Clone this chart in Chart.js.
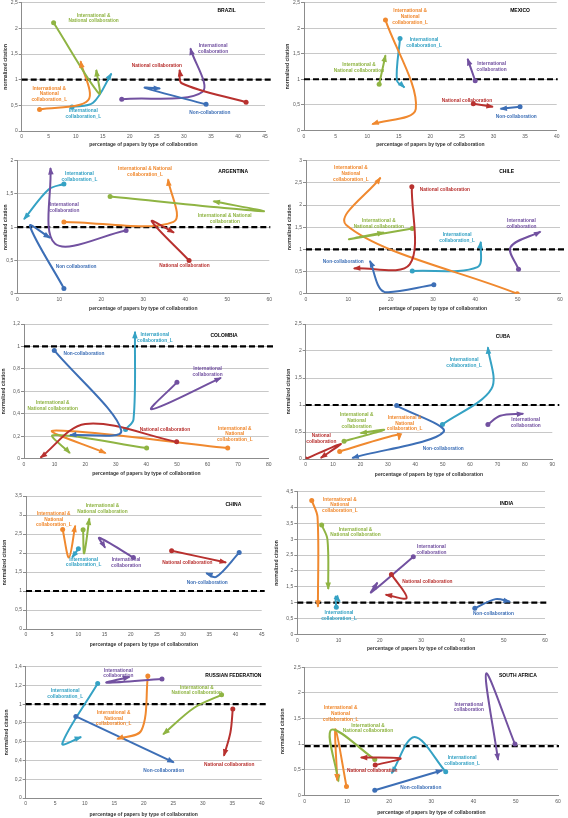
<!DOCTYPE html>
<html>
<head>
<meta charset="utf-8">
<script src="https://cdn.jsdelivr.net/npm/chart.js@4.4.1/dist/chart.umd.min.js"></script>
<style>
  html, body { margin: 0; padding: 0; background: #fff; }
  body { width: 568px; height: 818px; position: relative; overflow: hidden; }
  canvas { position: absolute; }
</style>
</head>
<body>
<script>
// ── Data: [percentage of papers, normalized citation] per period ─────────

// Brazil
const brNon     = [[34.1, 0.52], [22.8, 0.84], [25.6, 0.83]];
const brNat     = [[41.5, 0.56], [29.6, 0.93], [29.2, 1.19]];
const brInt     = [[18.5, 0.62], [33.4, 0.76], [31.2, 1.61]];
const brIntNat  = [[5.9, 2.11], [14.3, 0.73], [13.8, 1.19]];
const brIntNatL = [[3.3, 0.42], [12.3, 0.6], [10.9, 1.36]];
const brIntL    = [[9.3, 0.47], [13.2, 0.55], [16.6, 1.12]];

// Mexico
const mxNon     = [[34.2, 0.46], [31.1, 0.42]];
const mxNat     = [[26.8, 0.52], [29.9, 0.46]];
const mxInt     = [[27.1, 0.97], [25.9, 1.4]];
const mxIntNat  = [[11.9, 0.9], [12.9, 1.47]];
const mxIntNatL = [[12.9, 2.16], [17.7, 0.42], [10.8, 0.12]];
const mxIntL    = [[15.2, 1.8], [14.7, 0.98], [15.9, 0.84]];

// Argentina
const arNon     = [[11.1, 0.08], [3, 1.02], [7.8, 0.84]];
const arNat     = [[40.9, 0.5], [32, 1.09], [37.3, 0.92]];
const arInt     = [[25.9, 0.95], [9, 0.75], [7.9, 1.89]];
const arIntNat  = [[22.1, 1.46], [58.6, 1.24], [46.7, 1.39]];
const arIntNatL = [[11.1, 1.08], [37.2, 1.08], [35.9, 1.72]];
const arIntL    = [[11.1, 1.65], [7.5, 1.57], [1.6, 1.12]];

// Chile
const clNon     = [[30.2, 0.2], [18.5, 0.04], [15.1, 0.74]];
const clNat     = [[25, 2.41], [24.5, 0.66], [11.3, 0.57]];
const clInt     = [[50.2, 0.55], [48.3, 1.05], [55.4, 1.4]];
const clIntNat  = [[25.1, 1.47], [10.2, 1.23], [18.4, 1.38]];
const clIntNatL = [[49.9, 0], [9.5, 1.55], [17.6, 2.62]];
const clIntL    = [[25.1, 0.51], [40.5, 0.6], [41.3, 1.17]];

// Colombia
const coNon     = [[9.9, 0.965], [31.8, 0.25], [15, 0.21]];
const coNat     = [[49.9, 0.15], [20, 0.31], [5.4, 0.01]];
const coInt     = [[50, 0.68], [41.7, 0.44], [64.4, 0.72]];
const coIntNat  = [[40.1, 0.095], [9.5, 0.21], [15, 0.05]];
const coIntNatL = [[66.6, 0.095], [9.5, 0.25], [26.7, 0.05]];
const coIntL    = [[33.2, 0.26], [35.8, 0.35], [36.3, 1.13]];

// Cuba
const cuNon     = [[33.2, 0.99], [50.3, 0.5], [17, 0.02]];
const cuNat     = [[0, 0], [12.8, 0.28], [5.5, 0.02]];
const cuInt     = [[66.5, 0.64], [71, 0.8], [79.4, 0.84]];
const cuIntNat  = [[14, 0.33], [28.6, 0.54], [20, 0.48]];
const cuIntNatL = [[12.4, 0.14], [34.2, 0.46], [34, 0.36]];
const cuIntL    = [[49.9, 0.64], [67.8, 1.3], [66.5, 2.07]];

// China
const chNon     = [[40.7, 2.01], [36.3, 1.37], [34.4, 1.47]];
const chNat     = [[27.8, 2.06], [38.2, 1.75]];
const chInt     = [[20.5, 1.88], [14, 2.4], [15.1, 2.14]];
const chIntNat  = [[10.9, 2.61], [11.1, 1.99], [12.1, 2.91]];
const chIntNatL = [[7, 2.62], [8.2, 1.88], [9.4, 2.72]];
const chIntL    = [[10, 2.11], [8.8, 1.88]];

// India
const inNon     = [[43, 0.82], [48, 1.11], [51.5, 1.03]];
const inNat     = [[22.8, 1.89], [26.5, 1.15], [21.4, 1.25]];
const inInt     = [[28.1, 2.45], [17.9, 1.32], [19.4, 1.63]];
const inIntNat  = [[5.9, 3.45], [7.3, 3.0], [7.5, 1.43]];
const inIntNatL = [[3.5, 4.22], [4.9, 3.7], [5, 0.87]];
const inIntL    = [[9.45, 0.85], [9.3, 1.19], [10.3, 1.03]];

// Russian Federation
const ruNon     = [[8.5, 0.87], [25.1, 0.38]];
const ruNat     = [[35.1, 0.95], [34.7, 0.7], [33.6, 0.45]];
const ruInt     = [[23.1, 1.27], [13.7, 1.23], [17.6, 1.29]];
const ruIntNat  = [[33.2, 1.1], [28.5, 0.96], [23.3, 0.68]];
const ruIntNatL = [[20.7, 1.3], [19.6, 0.72], [15.5, 0.63]];
const ruIntL    = [[12.2, 1.22], [6.2, 0.58], [9.4, 0.65]];

// South Africa
const saNon     = [[16.6, 0.1], [32.6, 0.49]];
const saNat     = [[16.7, 0.59], [22.7, 0.72], [13.3, 0.74]];
const saInt     = [[49.8, 1], [43, 2.38], [45.8, 0.69]];
const saIntNat  = [[16.6, 0.7], [6.3, 1.28], [8, 0.27]];
const saIntNatL = [[9.9, 0.17], [7.3, 1.29], [7.7, 0.29]];
const saIntL    = [[33.4, 0.46], [26, 1.14], [20.6, 0.43]];

// Axis ranges: [xMax, xStep, yMax, yStep]
const brAxis = [45, 5, 2.5, 0.5];
const mxAxis = [40, 5, 2.5, 0.5];
const arAxis = [60, 10, 2, 0.5];
const clAxis = [60, 10, 3, 0.5];
const coAxis = [80, 10, 1.2, 0.2];
const cuAxis = [90, 10, 2.5, 0.5];
const chAxis = [45, 5, 3.5, 0.5];
const inAxis = [60, 10, 4.5, 0.5];
const ruAxis = [40, 5, 1.4, 0.2];
const saAxis = [60, 10, 2.5, 0.5];

// ── Annotation text placed in data units: [series, x, y, text] ───────────

const brLabels = [
  ['intNat', 13.3, 2.2, 'International &\nNational collaboration'],
  ['intNatL', 5.1, 0.72, 'International &\nNational\ncollaboration_L'],
  ['intL', 11.4, 0.33, 'International\ncollaboration_L'],
  ['int', 35.4, 1.61, 'International\ncollaboration'],
  ['nat', 25, 1.27, 'National collaboration'],
  ['non', 34.8, 0.36, 'Non-collaboration'],
];
const mxLabels = [
  ['intNatL', 16.8, 2.23, 'International &\nNational\ncollaboration_L'],
  ['intL', 19, 1.72, 'International\ncollaboration_L'],
  ['intNat', 8.7, 1.23, 'International &\nNational collaboration'],
  ['int', 29.7, 1.25, 'International\ncollaboration'],
  ['nat', 25.8, 0.58, 'National collaboration'],
  ['non', 33.6, 0.27, 'Non-collaboration'],
];
const arLabels = [
  ['intL', 14.8, 1.76, 'International\ncollaboration_L'],
  ['intNatL', 30.4, 1.83, 'International & National\ncollaboration_L'],
  ['int', 11.2, 1.29, 'International\ncollaboration'],
  ['intNat', 49.4, 1.13, 'International & National\ncollaboration'],
  ['non', 14, 0.41, 'Non collaboration'],
  ['nat', 39.8, 0.42, 'National collaboration'],
];
const clLabels = [
  ['intNatL', 10.6, 2.71, 'International &\nNational\ncollaboration_L'],
  ['nat', 32.8, 2.35, 'National collaboration'],
  ['intNat', 17.2, 1.58, 'International &\nNational collaboration'],
  ['intL', 35.7, 1.26, 'International\ncollaboration_L'],
  ['int', 50.9, 1.58, 'International\ncollaboration'],
  ['non', 8.8, 0.72, 'Non-collaboration'],
];
const coLabels = [
  ['intL', 42.8, 1.08, 'International\ncollaboration_L'],
  ['non', 19.6, 0.935, 'Non-collaboration'],
  ['int', 60, 0.775, 'International\ncollaboration'],
  ['intNat', 9.4, 0.47, 'International &\nNational collaboration'],
  ['nat', 46.1, 0.26, 'National collaboration'],
  ['intNatL', 68.9, 0.22, 'International &\nNational\ncollaboration_L'],
];
const cuLabels = [
  ['intL', 57.8, 1.79, 'International\ncollaboration_L'],
  ['intNat', 18.6, 0.71, 'International &\nNational\ncollaboration'],
  ['intNatL', 36.1, 0.66, 'International &\nNational\ncollaboration_L'],
  ['nat', 5.7, 0.38, 'National\ncollaboration'],
  ['non', 50.2, 0.2, 'Non-collaboration'],
  ['int', 80.3, 0.67, 'International\ncollaboration'],
];
const chLabels = [
  ['intNatL', 5.3, 2.89, 'International &\nNational\ncollaboration_L'],
  ['intNat', 14.6, 3.16, 'International &\nNational collaboration'],
  ['intL', 11, 1.76, 'International\ncollaboration_L'],
  ['int', 19.1, 1.75, 'International\ncollaboration'],
  ['nat', 30.8, 1.75, 'National collaboration'],
  ['non', 34.6, 1.23, 'Non-collaboration'],
];
const inLabels = [
  ['intNatL', 10.3, 4.08, 'International &\nNational\ncollaboration_L'],
  ['intNat', 14.1, 3.22, 'International &\nNational collaboration'],
  ['int', 32.5, 2.66, 'International\ncollaboration'],
  ['nat', 31.5, 1.65, 'National collaboration'],
  ['intL', 10.1, 0.58, 'International\ncollaboration_L'],
  ['non', 47.5, 0.66, 'Non-collaboration'],
];
const ruLabels = [
  ['int', 15.7, 1.33, 'International\ncollaboration'],
  ['intL', 6.7, 1.11, 'International\ncollaboration_L'],
  ['intNat', 29, 1.15, 'International &\nNational collaboration'],
  ['intNatL', 14.9, 0.85, 'International &\nNational\ncollaboration_L'],
  ['non', 23.4, 0.29, 'Non-collaboration'],
  ['nat', 34.5, 0.36, 'National collaboration'],
];
const saLabels = [
  ['int', 38.9, 1.72, 'International\ncollaboration'],
  ['intNatL', 8.5, 1.59, 'International &\nNational\ncollaboration_L'],
  ['intNat', 15, 1.31, 'International &\nNational collaboration'],
  ['nat', 16, 0.49, 'National collaboration'],
  ['intL', 37.3, 0.67, 'International\ncollaboration_L'],
  ['non', 27.5, 0.14, 'Non-collaboration'],
];

// ── Styling / layout ──────────────────────────────────────────────────────

const FONT   = "'Liberation Sans', Arial, sans-serif";
const ORDER  = ['non', 'nat', 'int', 'intNat', 'intNatL', 'intL'];
const COLORS = { non: '#3d6fb6', nat: '#b8312f', int: '#7251a0',
                 intNat: '#8fb443', intNatL: '#f0892f', intL: '#35a2c4' };

// plot rect [left, top, right, bottom] in page px, title centres, ref line
const panels = [
  { name: 'BRAZIL', country: [37.9, 2.34], axis: brAxis, labels: brLabels,
    series: { non: brNon, nat: brNat, int: brInt, intNat: brIntNat, intNatL: brIntNatL, intL: brIntL },
    plot: [21.7, 2.7, 265, 131], yTitleX: 6, xTitleY: 145, ref: 1, ext: 7 },
  { name: 'MEXICO', country: [34.2, 2.34], axis: mxAxis, labels: mxLabels,
    series: { non: mxNon, nat: mxNat, int: mxInt, intNat: mxIntNat, intNatL: mxIntNatL, intL: mxIntL },
    plot: [304, 2.7, 556.7, 130.3], yTitleX: 287.3, xTitleY: 144.3, ref: 1, ext: 1 },
  { name: 'ARGENTINA', country: [51.4, 1.83], axis: arAxis, labels: arLabels,
    series: { non: arNon, nat: arNat, int: arInt, intNat: arIntNat, intNatL: arIntNatL, intL: arIntL },
    plot: [17.3, 160.7, 269.3, 293.7], yTitleX: 6, xTitleY: 308.3, ref: 1, ext: 1 },
  { name: 'CHILE', country: [47.4, 2.75], axis: clAxis, labels: clLabels,
    series: { non: clNon, nat: clNat, int: clInt, intNat: clIntNat, intNatL: clIntNatL, intL: clIntL },
    plot: [306, 160.7, 560, 293.7], yTitleX: 290, xTitleY: 309, ref: 1, ext: 7 },
  { name: 'COLOMBIA', country: [65.4, 1.1], axis: coAxis, labels: coLabels,
    series: { non: coNon, nat: coNat, int: coInt, intNat: coIntNat, intNatL: coIntNatL, intL: coIntL },
    plot: [24, 324, 268.7, 458.7], yTitleX: 3.5, xTitleY: 473.7, ref: 1, ext: 6 },
  { name: 'CUBA', country: [72, 2.27], axis: cuAxis, labels: cuLabels,
    series: { non: cuNon, nat: cuNat, int: cuInt, intNat: cuIntNat, intNatL: cuIntNatL, intL: cuIntL },
    plot: [305.7, 324, 552.3, 459], yTitleX: 289, xTitleY: 474.7, ref: 1, ext: 7 },
  { name: 'CHINA', country: [39.6, 3.26], axis: chAxis, labels: chLabels,
    series: { non: chNon, nat: chNat, int: chInt, intNat: chIntNat, intNatL: chIntNatL, intL: chIntL },
    plot: [26, 496, 261.7, 629], yTitleX: 5, xTitleY: 645, ref: 1, ext: 3 },
  { name: 'INDIA', country: [50.7, 4.13], axis: inAxis, labels: inLabels,
    series: { non: inNon, nat: inNat, int: inInt, intNat: inIntNat, intNatL: inIntNatL, intL: inIntL },
    plot: [297.3, 491.7, 545, 634.3], yTitleX: 277, xTitleY: 649, ref: 1, ext: 2 },
  { name: 'RUSSIAN FEDERATION', country: [35.2, 1.30], axis: ruAxis, labels: ruLabels,
    series: { non: ruNon, nat: ruNat, int: ruInt, intNat: ruIntNat, intNatL: ruIntNatL, intL: ruIntL },
    plot: [25.7, 666.7, 261.7, 798], yTitleX: 6.7, xTitleY: 814.3, ref: 1, ext: 5 },
  { name: 'SOUTH AFRICA', country: [50.5, 2.33], axis: saAxis, labels: saLabels,
    series: { non: saNon, nat: saNat, int: saInt, intNat: saIntNat, intNatL: saIntNatL, intL: saIntL },
    plot: [304.7, 667.3, 558, 795.3], yTitleX: 283, xTitleY: 812.3, ref: 0.96, ext: 1 },
];

const fmt = v => String(Math.round(v * 10) / 10).replace('.', ',');

// ── Plugins ───────────────────────────────────────────────────────────────

// dashed "world average" line
const refLinePlugin = {
  id: 'refLine',
  beforeDatasetsDraw(chart, args, opts) {
    const { ctx, chartArea: a, scales: { y } } = chart;
    const py = y.getPixelForValue(opts.value);
    ctx.save();
    ctx.strokeStyle = '#000'; ctx.lineWidth = 2.2; ctx.setLineDash([6, 3]);
    ctx.beginPath(); ctx.moveTo(a.left, py); ctx.lineTo(a.right + opts.ext, py); ctx.stroke();
    ctx.restore();
  }
};

// arrowhead at the last point of every series
const arrowPlugin = {
  id: 'arrows',
  afterDatasetsDraw(chart) {
    const ctx = chart.ctx;
    chart.data.datasets.forEach((ds, i) => {
      const pts = chart.getDatasetMeta(i).data;
      const n = pts.length;
      if (n < 2) return;
      const end = pts[n - 1];
      let fx = end.cp1x, fy = end.cp1y;
      if (fx === undefined || Math.hypot(end.x - fx, end.y - fy) < 0.5) { fx = pts[n - 2].x; fy = pts[n - 2].y; }
      const a = Math.atan2(end.y - fy, end.x - fx);
      const len = 6.5, half = 2.8;
      ctx.save();
      ctx.translate(end.x, end.y); ctx.rotate(a);
      ctx.fillStyle = ds.borderColor;
      ctx.beginPath(); ctx.moveTo(1, 0); ctx.lineTo(-len, -half); ctx.lineTo(-len, half); ctx.closePath(); ctx.fill();
      ctx.restore();
    });
  }
};

// coloured series captions + country name
const labelPlugin = {
  id: 'seriesLabels',
  afterDatasetsDraw(chart, args, opts) {
    const { ctx, scales: { x, y } } = chart;
    ctx.save();
    ctx.textAlign = 'center'; ctx.textBaseline = 'middle';
    ctx.font = `bold 4.8px ${FONT}`;
    opts.labels.forEach(([key, vx, vy, text]) => {
      const lines = text.split('\n');
      const px = x.getPixelForValue(vx), py = y.getPixelForValue(vy);
      ctx.fillStyle = COLORS[key];
      lines.forEach((ln, k) => ctx.fillText(ln, px, py + (k - (lines.length - 1) / 2) * 5.8));
    });
    ctx.fillStyle = '#000';
    ctx.font = `bold 5px ${FONT}`;
    ctx.fillText(opts.name, x.getPixelForValue(opts.country[0]), y.getPixelForValue(opts.country[1]));
    ctx.restore();
  }
};

// ── Build charts ──────────────────────────────────────────────────────────

function makePanel(p) {
  const [L, T, R, B] = p.plot;
  const [xMax, xStep, yMax, yStep] = p.axis;
  const left = p.yTitleX - 5, bottom = p.xTitleY + 5;
  const cx = Math.floor(left), cy = Math.floor(T - 8);
  const cr = Math.ceil(R + 12), cb = Math.ceil(bottom);
  const yw = L - left, xh = bottom - B;

  const canvas = document.createElement('canvas');
  canvas.width = cr - cx; canvas.height = cb - cy;
  canvas.style.left = cx + 'px'; canvas.style.top = cy + 'px';
  document.body.appendChild(canvas);

  const datasets = ORDER.filter(k => p.series[k]).map(k => ({
    label: k,
    data: p.series[k].map(([x, y]) => ({ x, y })),
    showLine: true, tension: 0.33, fill: false,
    borderColor: COLORS[k], backgroundColor: COLORS[k], borderWidth: 2,
    pointRadius: c => c.dataIndex === 0 ? 2.5 : 0,
    pointBorderWidth: 0, pointBackgroundColor: COLORS[k]
  }));

  const tickFont  = { family: FONT, size: 5 };
  const titleFont = { family: FONT, size: 5, weight: 'bold' };

  new Chart(canvas, {
    type: 'scatter',
    data: { datasets },
    plugins: [refLinePlugin, arrowPlugin, labelPlugin],
    options: {
      responsive: false, animation: false, devicePixelRatio: 1, events: [],
      layout: { padding: { left: left - cx, top: T - cy, right: cr - R, bottom: cb - bottom } },
      plugins: {
        legend: { display: false }, tooltip: { enabled: false },
        refLine: { value: p.ref, ext: p.ext },
        seriesLabels: { labels: p.labels, name: p.name, country: p.country }
      },
      scales: {
        x: { type: 'linear', min: 0, max: xMax,
             afterFit: s => { s.height = xh; },
             ticks: { stepSize: xStep, autoSkip: false, maxRotation: 0, padding: 3,
                      color: '#595959', font: tickFont, callback: fmt },
             grid: { display: false, drawTicks: false },
             border: { display: true, color: '#8c8c8c', width: 1 },
             title: { display: true, text: 'percentage of papers by type of collaboration',
                      color: '#333', font: titleFont, padding: { top: 2, bottom: 2 } } },
        y: { type: 'linear', min: 0, max: yMax,
             afterFit: s => { s.width = yw; },
             ticks: { stepSize: yStep, autoSkip: false, padding: 1,
                      color: '#595959', font: tickFont, callback: fmt },
             grid: { color: '#c8c8c8', lineWidth: 1, tickLength: 3, tickColor: '#8c8c8c' },
             border: { display: true, color: '#8c8c8c', width: 1 },
             title: { display: true, text: 'normalized citation',
                      color: '#333', font: titleFont, padding: { top: 2, bottom: 2 } } }
      }
    }
  });
}

panels.forEach(makePanel);
</script>
</body>
</html>
